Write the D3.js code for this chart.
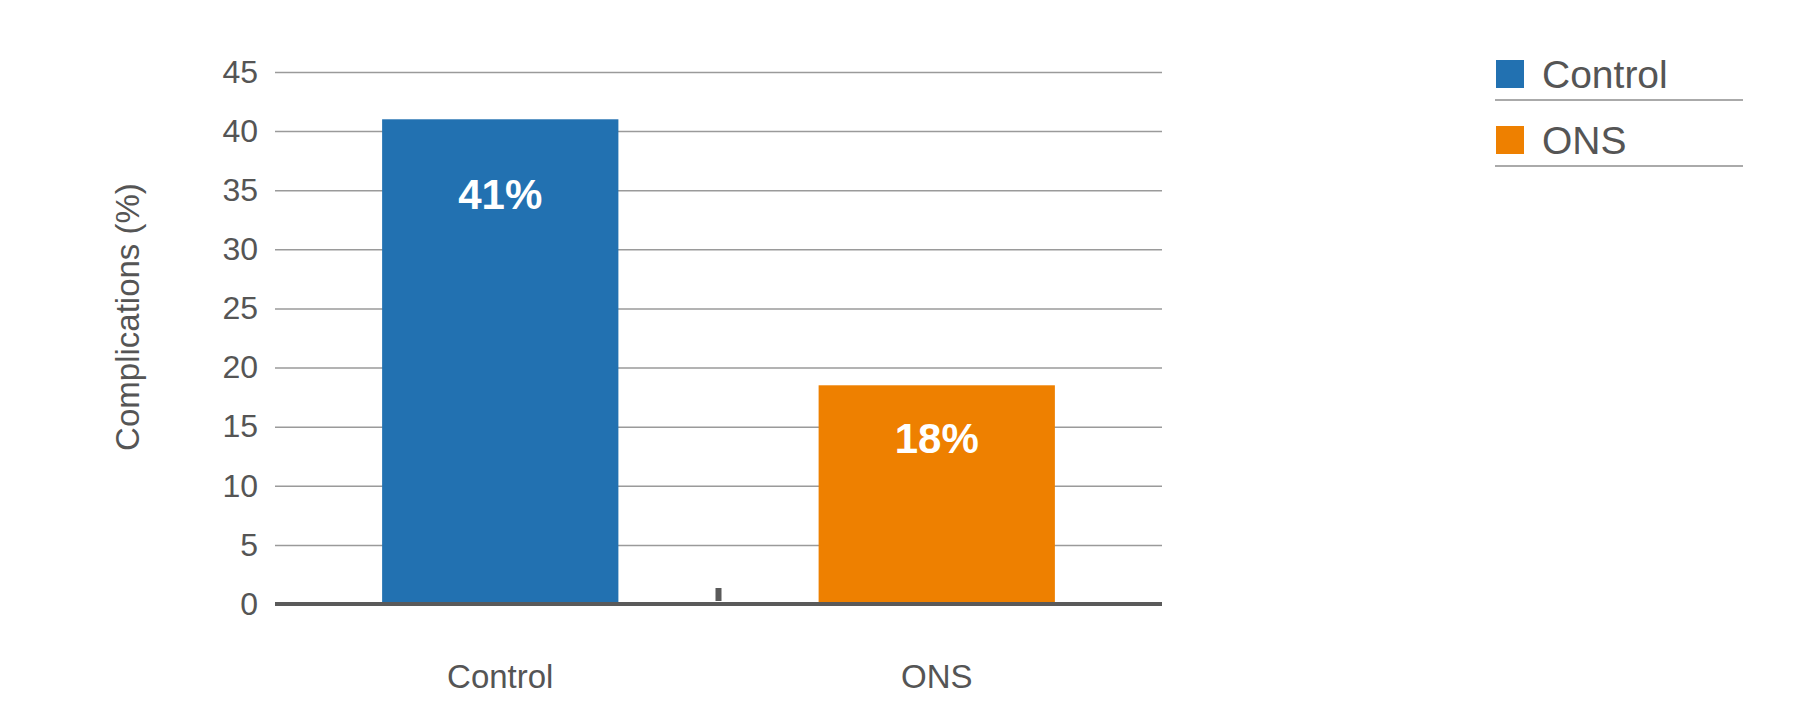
<!DOCTYPE html>
<html>
<head>
<meta charset="utf-8">
<script src="https://cdn.jsdelivr.net/npm/d3@7/dist/d3.min.js"></script>
<style>
  html, body { margin: 0; padding: 0; background: #fff; }
  svg { display: block; }
  text { font-family: "Liberation Sans", Arial, Helvetica, sans-serif; }
</style>
</head>
<body>
<svg id="chart" width="1820" height="715"></svg>
<script>
const categories = ["Control", "ONS"];
const values = [41, 18.5];
const valueLabels = ["41%", "18%"];
const colors = ["#2271b1", "#ee8000"];
const yTicks = [0, 5, 10, 15, 20, 25, 30, 35, 40, 45];
const yTitle = "Complications (%)";

const svg = d3.select("#chart");
const textColor = "#555555";

const x = d3.scaleBand()
  .domain(categories)
  .range([275, 1162])
  .paddingInner(0.4587)
  .paddingOuter(0.2454);

const y = d3.scaleLinear()
  .domain([0, 45])
  .range([604, 72]);

// gridlines
const grid = svg.append("g")
  .attr("transform", "translate(275,0)")
  .call(d3.axisLeft(y).tickValues(yTicks).tickSize(-887).tickFormat(""));
grid.select(".domain").remove();
grid.selectAll(".tick line").attr("stroke", "#9a9a9a").attr("stroke-width", 1.5);

// y tick labels
const yAxis = svg.append("g")
  .attr("transform", "translate(258,0)")
  .call(d3.axisLeft(y).tickValues(yTicks).tickSize(0).tickPadding(0));
yAxis.select(".domain").remove();
yAxis.selectAll(".tick text")
  .attr("fill", textColor)
  .style("font-size", "32px")
  .style("font-family", "'Liberation Sans', Arial, sans-serif");

// bars
svg.append("g").selectAll("rect")
  .data(categories)
  .join("rect")
  .attr("x", d => x(d))
  .attr("width", x.bandwidth())
  .attr("y", (d, i) => y(values[i]))
  .attr("height", (d, i) => y(0) - y(values[i]))
  .attr("fill", (d, i) => colors[i]);

// baseline
svg.append("line")
  .attr("x1", 275).attr("x2", 1162)
  .attr("y1", y(0)).attr("y2", y(0))
  .attr("stroke", "#5a5a5a").attr("stroke-width", 4);

// small marker between categories
const midX = (x(categories[0]) + x.bandwidth() + x(categories[1])) / 2;
svg.append("rect")
  .attr("x", midX - 3).attr("y", y(0) - 16)
  .attr("width", 6).attr("height", 13)
  .attr("fill", "#5a5a5a");

// value labels inside bars
const labelOffsets = [90, 68];
svg.append("g").selectAll("text")
  .data(categories)
  .join("text")
  .attr("x", d => x(d) + x.bandwidth() / 2)
  .attr("y", (d, i) => y(values[i]) + labelOffsets[i])
  .attr("text-anchor", "middle")
  .attr("fill", "#ffffff")
  .style("font-size", "42px")
  .style("font-weight", "bold")
  .text((d, i) => valueLabels[i]);

// x category labels
const xAxis = svg.append("g")
  .call(d3.axisBottom(x).tickSize(0).tickPadding(0));
xAxis.select(".domain").remove();
xAxis.selectAll(".tick text")
  .attr("y", 688)
  .attr("dy", null)
  .attr("fill", textColor)
  .style("font-size", "33px")
  .style("font-family", "'Liberation Sans', Arial, sans-serif");

// y title
svg.append("text")
  .attr("transform", "translate(139,317) rotate(-90)")
  .attr("text-anchor", "middle")
  .attr("fill", textColor)
  .style("font-size", "33px")
  .text(yTitle);

// legend
const legend = svg.append("g");
const rows = legend.selectAll("g")
  .data(categories)
  .join("g")
  .attr("transform", (d, i) => `translate(1496,${60 + i * 66})`);
rows.append("rect")
  .attr("width", 28).attr("height", 28)
  .attr("fill", (d, i) => colors[i]);
rows.append("text")
  .attr("x", 46).attr("y", 27.5)
  .attr("fill", textColor)
  .style("font-size", "39px")
  .text(d => d);
rows.append("line")
  .attr("x1", -1).attr("x2", 247)
  .attr("y1", 40).attr("y2", 40)
  .attr("stroke", "#aaaaaa").attr("stroke-width", 2);
</script>
</body>
</html>
